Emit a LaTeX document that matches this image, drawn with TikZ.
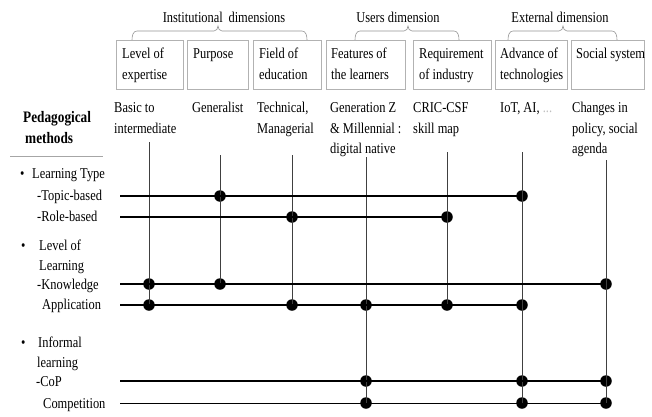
\documentclass[tikz,border=0pt]{standalone}
\usepackage{fontspec}
\setmainfont[FakeStretch=0.83]{Liberation Serif}
\begin{document}
\begin{tikzpicture}[x=1pt,y=-1pt,
  txt/.style={anchor=base west,inner sep=0pt,font=\fontsize{15}{18}\selectfont},
  hdr/.style={anchor=base,inner sep=0pt,font=\fontsize{15}{18}\selectfont},
  bld/.style={anchor=base west,inner sep=0pt,font=\fontsize{16}{18}\selectfont\bfseries},
  box/.style={draw=gray!60,line width=0.6pt,inner sep=0pt,anchor=north west,minimum height=49pt},
  hline/.style={line width=1.2pt},
  vline/.style={line width=0.8pt,black!75},
  dot/.style={circle,fill=black,inner sep=0pt,minimum size=11.5pt},
  brc/.style={draw=gray!85,line width=0.6pt}
]
\useasboundingbox (0,0) rectangle (652,416);

% group headers
\node[hdr] (h1) at (224,22) {Institutional\, dimensions};
\node[hdr] (h2) at (398,22) {Users dimension};
\node[hdr] (h3) at (560,22) {External dimension};

% braces
\draw[brc] (132,40) to[out=90,in=180] (137,31) -- (214,31) to[out=0,in=-90] (218,26) to[out=-90,in=180] (222,31) -- (302,31) to[out=0,in=90] (307,40);
\draw[brc] (355,40) to[out=90,in=180] (360,31) -- (404,31) to[out=0,in=-90] (408,26) to[out=-90,in=180] (412,31) -- (454,31) to[out=0,in=90] (459,40);
\draw[brc] (508,40) to[out=90,in=180] (513,31) -- (559,31) to[out=0,in=-90] (563,26) to[out=-90,in=180] (567,31) -- (612,31) to[out=0,in=90] (617,40);

% boxes
\node[box,minimum width=67pt] (b1) at (116,40) {};
\node[box,minimum width=61pt] (b2) at (187,40) {};
\node[box,minimum width=68pt] (b3) at (253,40) {};
\node[box,minimum width=79pt] (b4) at (326,40) {};
\node[box,minimum width=78pt] (b5) at (413,40) {};
\node[box,minimum width=72pt] (b6) at (495,40) {};
\node[box,minimum width=73pt] (b7) at (571,40) {};

\node[txt] (b1a) at (122,58) {Level of};
\node[txt] (b1b) at (122,79) {expertise};
\node[txt] (b2a) at (193,58) {Purpose};
\node[txt] (b3a) at (259,58) {Field of};
\node[txt] (b3b) at (259,79) {education};
\node[txt] (b4a) at (331,58) {Features of};
\node[txt] (b4b) at (331,79) {the learners};
\node[txt] (b5a) at (419,58) {Requirement};
\node[txt] (b5b) at (419,79) {of industry};
\node[txt] (b6a) at (500,58) {Advance of};
\node[txt] (b6b) at (500,79) {technologies};
\node[txt] (b7a) at (576,58) {Social system};

% column labels
\node[txt] (l1a) at (114,112) {Basic to};
\node[txt] (l1b) at (114,133) {intermediate};
\node[txt] (l2a) at (192,112) {Generalist};
\node[txt] (l3a) at (257,112) {Technical,};
\node[txt] (l3b) at (257,133) {Managerial};
\node[txt] (l4a) at (330,112) {Generation Z};
\node[txt] (l4b) at (330,133) {\& Millennial :};
\node[txt] (l4c) at (330,153) {digital native};
\node[txt] (l5a) at (413,112) {CRIC-CSF};
\node[txt] (l5b) at (413,133) {skill map};
\node[txt] (l6a) at (500,112) {IoT, AI, \textcolor{gray!50}{...}};
\node[txt] (l7a) at (572,112) {Changes in};
\node[txt] (l7b) at (572,133) {policy, social};
\node[txt] (l7c) at (572,153) {agenda};

% row labels
\node[bld] (p1) at (23,122) {Pedagogical};
\node[bld] (p2) at (25,143) {methods};
\coordinate (ru1) at (10,156);
\coordinate (ru2) at (103,156);
\draw[gray!70,line width=0.6pt] (ru1) -- (ru2);

\node[txt] (k1) at (20,178) {•};
\node[txt] (t1) at (32,178) {Learning Type};
\node[txt] (t2) at (37,200) {-Topic-based};
\node[txt] (t3) at (37,221) {-Role-based};
\node[txt] (k2) at (21,250) {•};
\node[txt] (t4) at (39,250) {Level of};
\node[txt] (t5) at (39,270) {Learning};
\node[txt] (t6) at (37,289) {-Knowledge};
\node[txt] (t7) at (42,309) {Application};
\node[txt] (k3) at (21,347) {•};
\node[txt] (t8) at (38,347) {Informal};
\node[txt] (t9) at (37,367) {learning};
\node[txt] (t10) at (36,386) {-CoP};
\node[txt] (t11) at (43,408) {Competition};

% column tops and row starts
\coordinate (c1) at (149,142);
\coordinate (c2) at (220,155);
\coordinate (c3) at (292,155);
\coordinate (c4) at (366,157);
\coordinate (c5) at (447,152);
\coordinate (c6) at (522,152);
\coordinate (c7) at (606,160);
\coordinate (r1) at (120,196);
\coordinate (r2) at (120,217);
\coordinate (r3) at (120,284);
\coordinate (r4) at (120,305);
\coordinate (r5) at (120,381);
\coordinate (r6) at (120,403);

% dots
\node[dot] (d12) at (220,196) {};
\node[dot] (d16) at (522,196) {};
\node[dot] (d23) at (292,217) {};
\node[dot] (d25) at (447,217) {};
\node[dot] (d31) at (149,284) {};
\node[dot] (d32) at (220,284) {};
\node[dot] (d37) at (606,284) {};
\node[dot] (d41) at (149,305) {};
\node[dot] (d43) at (292,305) {};
\node[dot] (d44) at (366,305) {};
\node[dot] (d45) at (447,305) {};
\node[dot] (d46) at (522,305) {};
\node[dot] (d54) at (366,381) {};
\node[dot] (d56) at (522,381) {};
\node[dot] (d57) at (606,381) {};
\node[dot] (d64) at (366,403) {};
\node[dot] (d66) at (522,403) {};
\node[dot] (d67) at (606,403) {};

% vertical connectors
\draw[vline] (c1) -- (d41.center);
\draw[vline] (c2) -- (d32.center);
\draw[vline] (c3) -- (d43.center);
\draw[vline] (c4) -- (d64.center);
\draw[vline] (c5) -- (d45.center);
\draw[vline] (c6) -- (d66.center);
\draw[vline] (c7) -- (d67.center);

% horizontal connectors
\draw[hline] (r1) -- (d16.center);
\draw[hline] (r2) -- (d25.center);
\draw[hline] (r3) -- (d37.center);
\draw[hline] (r4) -- (d46.center);
\draw[hline] (r5) -- (d57.center);
\draw[line width=0.9pt] (r6) -- (d67.center);
\end{tikzpicture}
\end{document}
